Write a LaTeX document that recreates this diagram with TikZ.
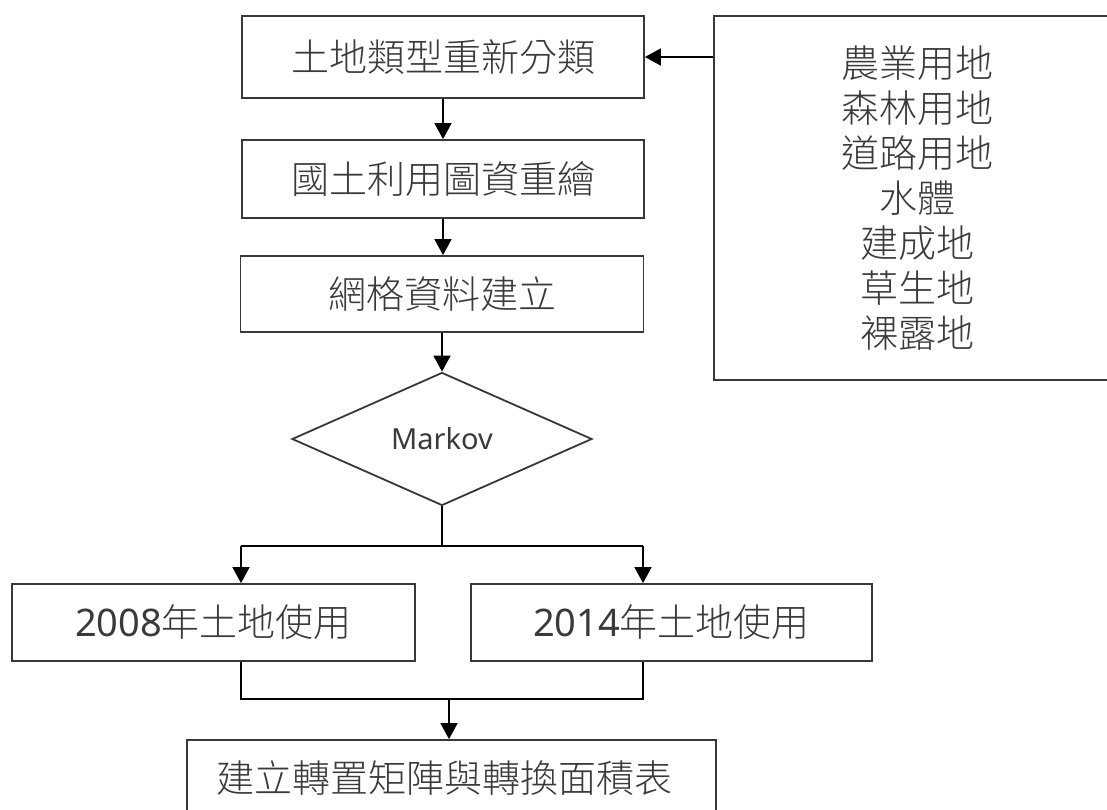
\documentclass[tikz,border=0pt]{standalone}
\usepackage{fontspec}
\setmainfont{Noto Sans}
\newfontfamily\cjk{Noto Sans CJK TC Light}
\newfontfamily\latn{Noto Sans}
\usetikzlibrary{shapes.geometric,arrows.meta}
\definecolor{txt}{HTML}{3a3a3a}
\definecolor{bord}{HTML}{383838}
\tikzset{
  boxstyle/.style={draw=bord, line width=1.8pt, rectangle, inner sep=0pt, text=txt,
    font=\fontsize{38}{44}\selectfont\cjk},
  dia/.style={draw=bord, line width=1.8pt, diamond, aspect=2.26, inner sep=0pt,
    minimum width=300pt, minimum height=133pt, text=txt, font=\fontsize{29}{32}\selectfont},
  conn/.style={draw=black, line width=1.8pt},
  arr/.style={conn, -{Triangle[length=16pt,width=17pt]}}
}
\begin{document}
\begin{tikzpicture}[x=1pt,y=-1pt]
\useasboundingbox (0,0) rectangle (1107,810);
\clip (0,0) rectangle (1107,810);
\fill[white] (0,0) rectangle (1107,810);

\node[boxstyle, minimum width=402pt, minimum height=82pt] (b1) at (443,57) {土地類型重新分類};
\node[boxstyle, minimum width=402pt, minimum height=78pt] (b2) at (443,179) {國土利用圖資重繪};
\node[boxstyle, minimum width=403pt, minimum height=76pt] (b3) at (442,294) {網格資料建立};
\node[boxstyle, minimum width=406pt, minimum height=364pt, align=center,
      font=\fontsize{38}{45}\selectfont\cjk] (rb) at (917,198)
  {農業用地\\森林用地\\道路用地\\水體\\建成地\\草生地\\裸露地};
\node[dia] (dm) at (442,439) {Markov};
\node[boxstyle, minimum width=403pt, minimum height=77pt] (b08) at (213.5,622.5) {{\latn 2008}年土地使用};
\node[boxstyle, minimum width=401pt, minimum height=77pt] (b14) at (671.5,622.5) {{\latn 2014}年土地使用};
\node[boxstyle, minimum width=529pt, minimum height=90pt] (bot) at (451.5,785) {};
\node[text=txt, font=\fontsize{38}{44}\selectfont\cjk, anchor=center] (bottxt) at (444,778) {建立轉置矩陣與轉換面積表};

\coordinate (sL) at (241,546);
\coordinate (sR) at (643,546);
\coordinate (sM) at (442,546);
\coordinate (jL) at (241,699);
\coordinate (jR) at (643,699);
\coordinate (jM) at (449,699);

\draw[arr] (rb.west |- b1.east) -- (b1.east);
\draw[arr] (b1.south) -- (b2.north);
\draw[arr] (b2.south) -- (b2.south |- b3.north);
\draw[arr] (b3.south) -- (dm.north);
\draw[conn] (dm.south) -- (sM);
\draw[conn] (sL) -- (sR);
\draw[arr] (sL) -- (sL |- b08.north);
\draw[arr] (sR) -- (sR |- b14.north);
\draw[conn] (sL |- b08.south) -- (jL) -- (jR) -- (sR |- b14.south);
\draw[arr] (jM) -- (jM |- bot.north);
\end{tikzpicture}
\end{document}
